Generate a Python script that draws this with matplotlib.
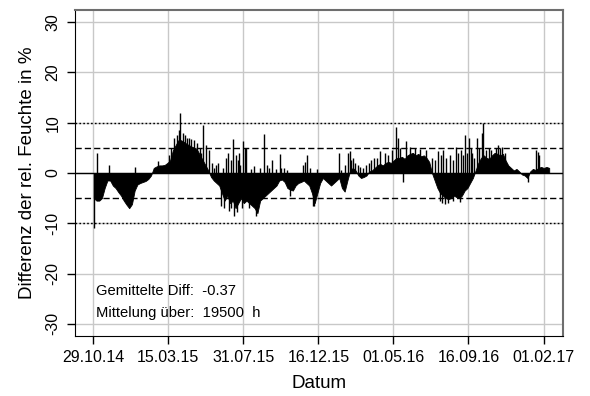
import matplotlib
matplotlib.use("Agg")
import matplotlib.pyplot as plt
import numpy as np
import pandas as pd

plt.rcParams['font.family'] = ['Liberation Sans', 'DejaVu Sans']

# data: humidity difference, sampled every 5 days from 30.10.14
start = pd.Timestamp("2014-10-30")
step_days = 5
diff_vals = [
    -5.0, -5.5, -5.5, -5.0, -3.0, -1.5, -1.5, -2.5, -3.0, -3.8,
    -4.5, -5.5, -6.3, -7.0, -6.2, -3.5, -2.3, -2.0, -1.8, -1.6,
    -1.2, -0.5, 1.0, 1.3, 1.5, 1.5, 1.6, 2.0, 2.5, 4.5,
    5.5, 6.5, 6.5, 6.2, 5.8, 5.5, 5.2, 5.0, 4.5, 3.5,
    2.5, 1.5, 0.5, -0.8, -1.5, -2.0, -2.5, -4.0, -5.5, -4.5,
    -6.0, -5.5, -7.0, -6.0, -5.0, -6.0, -5.5, -6.0, -6.5, -7.0,
    -8.0, -5.5, -5.0, -4.5, -4.0, -3.5, -3.0, -2.5, -1.5, -1.3,
    -1.8, -3.0, -3.3, -3.5, -2.5, -2.0, -1.8, -1.5, -2.0, -2.5,
    -4.0, -6.0, -4.0, -2.0, -1.0, -1.5, -2.0, -2.5, -2.0, -1.5,
    -1.0, -3.0, -3.7, -1.5, 0.5, 1.0, 0.5, -0.5, -1.0, -0.8,
    -0.5, 0.3, 0.5, 1.0, 1.5, 1.8, 1.5, 2.0, 2.2, 2.0,
    2.5, 3.0, 3.0, 3.2, 2.8, 3.5, 3.8, 4.0, 3.5, 3.8,
    3.3, 3.5, 3.0, 2.2, 0.0, -1.5, -3.0, -4.0, -4.5, -5.0,
    -5.2, -5.0, -4.5, -4.8, -5.0, -4.5, -3.5, -3.0, -2.0, -1.0,
    0.5, 2.0, 3.0, 3.5, 3.0, 2.8, 3.5, 4.0, 3.8, 3.5,
    3.8, 2.5, 1.5, 1.0, 0.5, 0.8, 0.3, -0.3, -0.5, -1.0,
    0.3, 0.8, 0.6, 1.0, 1.2, 1.0, 1.2, 1.0,
]

# single hourly peaks (days after 29.10.14, value)
peak_days = [2, 7, 29, 76, 118, 139, 143, 148, 153, 157, 160, 165, 168, 172,
             176, 180, 185, 190, 195, 197, 201, 207, 212, 217, 222, 226, 229,
             235, 238, 240, 244, 248, 248.5, 252, 253, 256, 259, 262, 263, 265,
             268, 270, 272, 275, 278, 281, 285, 289, 295, 298, 305, 313, 318,
             322, 327, 336, 342, 345, 350, 356, 360, 384, 389, 392, 398, 403,
             405, 410, 450, 455, 462, 467, 470, 473, 476, 480, 485, 490, 495,
             500, 505, 510, 515, 520, 526, 535, 540, 548, 556, 558, 563, 568,
             573, 581, 590, 600, 610, 622, 627, 632, 635, 637, 640, 641, 645,
             647, 650, 655, 660, 660.5, 665, 669, 672, 675, 678, 681, 685, 689,
             692, 695, 698, 703, 708, 712, 715, 720, 725, 730, 738, 742, 745,
             750, 755, 797, 812, 815, 818]
peak_vals = [-10.9, 4.0, 1.6, 1.2, 2.3, 3.6, 5.0, 7.0, 7.5, 8.5, 11.9, 8.0, 7.5, 7.0,
             7.0, 6.8, 6.5, 6.0, 5.0, 4.0, 9.5, 5.5, 4.5, 2.0, 1.0, 1.5, 2.0,
             -6.5, 1.0, -7.0, 3.0, 4.0, -7.5, 2.5, -7.0, 6.8, -8.5, 3.5, -7.8, 2.6,
             4.0, 1.5, -7.0, 6.4, 5.0, 4.9, -7.0, 0.8, 1.4, -8.5, 1.0, 7.7, 1.5,
             1.0, 2.6, 0.8, 3.8, 1.0, 1.0, 0.5, -4.5, 1.6, 2.2, 3.6, 1.0, -6.5,
             -6.5, 0.8, 3.9, 0.5, 1.5, 3.9, 4.3, 2.5, 3.0, 2.0, 1.5, 1.2, 1.0,
             1.5, 2.0, 2.5, 3.0, 3.0, 4.3, 4.0, 3.5, 4.5, 9.1, 6.9, 5.0, -1.8,
             6.3, 5.2, 5.0, 4.8, 4.5, 3.0, 2.5, 4.3, -5.5, 3.5, -6.0, 4.6, -6.2,
             3.0, -6.0, 3.5, 2.5, -5.5, 5.2, 4.0, -5.8, 4.5, 3.5, 7.6, 4.0, 6.9,
             5.0, 4.0, 3.0, 6.9, 5.0, 8.0, 9.9, 4.5, 5.0, 4.5, 5.0, 5.5, 5.0,
             5.2, 4.0, -1.7, 4.6, 4.2, 3.5]

tick_labels = ["29.10.14", "15.03.15", "31.07.15", "16.12.15",
               "01.05.16", "16.09.16", "01.02.17"]
mean_diff = -0.37
hours = 19500

dates = start + pd.to_timedelta(np.arange(len(diff_vals)) * step_days, unit="D")
origin = pd.Timestamp("2014-10-29")
peak_dates = origin + pd.to_timedelta(peak_days, unit="D")
tick_dates = [pd.to_datetime(t, format="%d.%m.%y") for t in tick_labels]

fig = plt.figure(figsize=(5.9, 3.96), dpi=100)
ax = fig.add_axes([0.127, 0.1515, 0.827, 0.8235])

grid_col = "#c8c8c8"
for t in tick_dates:
    ax.axvline(t, color=grid_col, lw=1, zorder=0)
for y in [-30, -20, -10, 0, 10, 20, 30]:
    ax.axhline(y, color=grid_col, lw=1, zorder=0)

ax.fill_between(dates, 0, diff_vals, color="black", lw=0.6, edgecolor="black", zorder=2)
ax.vlines(peak_dates, 0, peak_vals, color="black", lw=1, zorder=2)

ax.axhline(0, color="black", lw=1, zorder=3)
for y in [-5, 5]:
    ax.axhline(y, color="black", lw=1, ls=(0, (4.5, 2.2)), zorder=3)
for y in [-10, 10]:
    ax.axhline(y, color="black", lw=1, ls=(0, (1.2, 1.6)), zorder=3)

ax.set_xlim(origin - pd.Timedelta(days=33.5), origin + pd.Timedelta(days=861))
ax.set_ylim(-32.4, 32.4)
ax.set_xticks(tick_dates)
ax.set_xticklabels(tick_labels, fontsize=11.5)
ax.set_yticks([-30, -20, -10, 0, 10, 20, 30])
ax.set_yticklabels(["-30", "-20", "-10", "0", "10", "20", "30"], fontsize=11.5,
                   rotation=90, va="center")
ax.tick_params(axis="both", length=5.8, width=1, color="black", pad=4.5)

for s in ["left", "bottom"]:
    ax.spines[s].set_color("black")
for s in ["top", "right"]:
    ax.spines[s].set_color("#6e6e6e")
    ax.spines[s].set_linewidth(1.5)

ax.set_xlabel("Datum", fontsize=13.5, labelpad=7)
ax.set_ylabel("Differenz der rel. Feuchte in %", fontsize=13.5, labelpad=7)

ax.text(origin + pd.Timedelta(days=5), -23.5, "Gemittelte Diff:  %.2f" % mean_diff,
        fontsize=10.6, va="center")
ax.text(origin + pd.Timedelta(days=5), -27.8, "Mittelung über:  %d  h" % hours,
        fontsize=10.6, va="center")

fig.savefig("out.png", dpi=100)
